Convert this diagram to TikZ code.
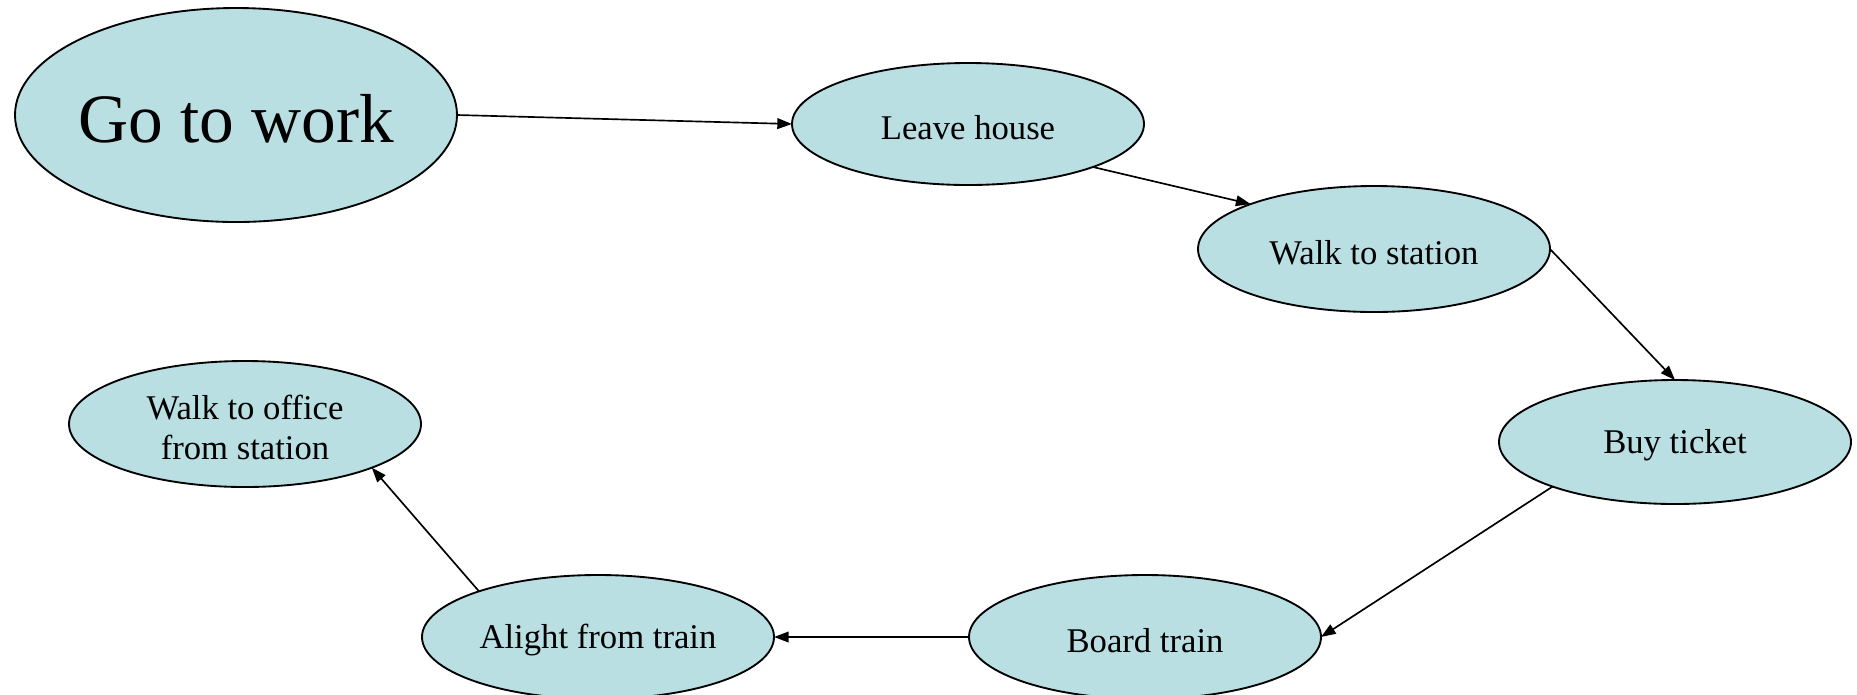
\documentclass[tikz,border=0pt]{standalone}
\usepackage{fontspec}
\setmainfont{Liberation Serif}
\usetikzlibrary{shapes.geometric,arrows.meta}
\definecolor{nodefill}{HTML}{B9DFE3}
\tikzset{
  state/.style={ellipse, draw=black, line width=1.4pt, fill=nodefill,
    inner sep=0pt, outer sep=0pt,
    minimum width=#1*1.5pt},
  state/.default=176,
  statelabel/.style={font=\fontsize{26}{30}\selectfont, align=center, yshift=-2.5pt},
  flow/.style={line width=1.25pt, -{Triangle[length=11pt,width=8pt]}},
}
\begin{document}
\begin{tikzpicture}[x=0.75pt,y=-0.75pt]
  \useasboundingbox (0,0) rectangle (1857,694);

  % start node
  \node[state=221, minimum height=214*0.75pt,
        label={[font=\fontsize{52}{60}\selectfont, yshift=-2.5pt]center:Go to work}] (work) at (236,115) {};

  % steps of the trip
  \node[state, minimum height=122*0.75pt, label={[statelabel]center:Leave house}] (leave) at (968,124) {};
  \node[state, minimum height=126*0.75pt, label={[statelabel]center:Walk to station}] (walk) at (1374,249) {};
  \node[state, minimum height=124*0.75pt, label={[statelabel]center:Buy ticket}] (ticket) at (1675,442) {};
  \node[state, minimum height=124*0.75pt, label={[statelabel]center:Board train}] (board) at (1145,637) {};
  \node[state, minimum height=124*0.75pt, label={[statelabel]center:Alight from train}] (alight) at (598,637) {};
  \node[state, minimum height=126*0.75pt, label={[statelabel]center:Walk to office\\from station}] (office) at (245,424) {};

  % connectors
  \draw[flow] (work.east) -- (leave.west);
  \draw[flow] (leave.-19.6) -- (walk.160.6);
  \draw[flow] (walk.east) -- (ticket.north);
  \draw[flow] (ticket.-160.8) -- (board.east);
  \draw[flow] (board.west) -- (alight.east);
  \draw[flow] (alight.159.6) -- (office.-19.4);
\end{tikzpicture}
\end{document}
